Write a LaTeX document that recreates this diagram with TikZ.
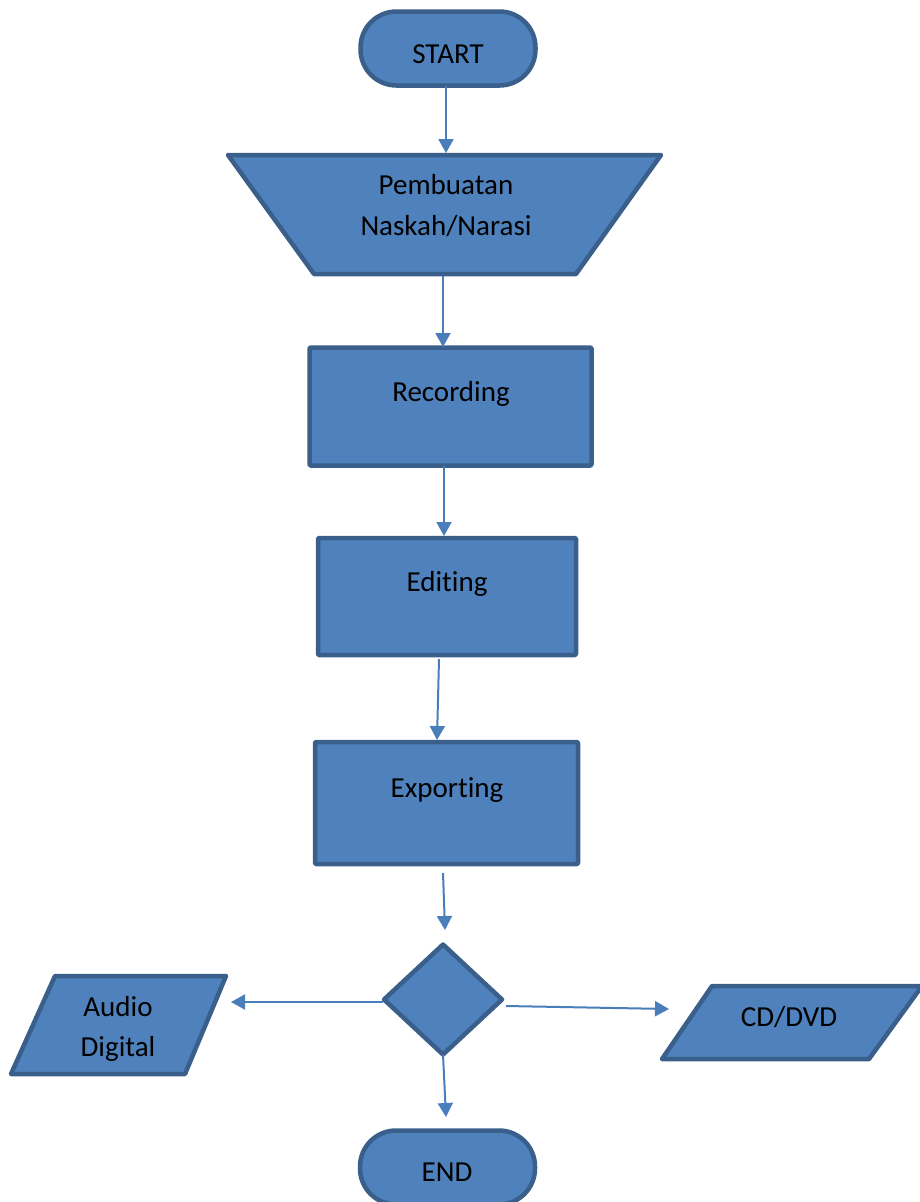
\documentclass[tikz,border=0pt]{standalone}
\usepackage{fontspec}
\setmainfont[Ligatures={NoCommon,NoRequired,NoContextual}]{Carlito}
\usetikzlibrary{arrows.meta,shapes.geometric}
\definecolor{fillblue}{HTML}{4F81BD}
\definecolor{edgeblue}{HTML}{3A5F8B}
\definecolor{arrowblue}{HTML}{4A7EBB}
\tikzset{
  shapebox/.style={draw=edgeblue, fill=fillblue, line width=4.5pt, line join=round, inner sep=0pt, outer sep=0pt},
  terminal/.style={shapebox, rectangle, rounded corners=36pt, minimum width=175pt, minimum height=74pt},
  procbox/.style={shapebox, rectangle, rounded corners=1pt},
  lbl/.style={anchor=base, inner sep=0pt, font=\fontsize{29}{41}\selectfont, text=black},
  arr/.style={draw=arrowblue, line width=2pt, -{Triangle[width=15pt,length=14pt]}}
}
\begin{document}
\begin{tikzpicture}[x=1pt,y=-1pt]
\useasboundingbox (0,0) rectangle (920,1202);

% START
\node[terminal] (start) at (448,48.5) {};
\node[lbl] (startT) at (448,63) {START};

% Trapezoid (manual input)
\draw[shapebox] (228,155) -- (661,155) -- (576,274) -- (314,274) -- cycle;
\coordinate (trapTop) at (446,153);
\coordinate (trapBot) at (443,276);
\node[lbl] (trapT1) at (446,194) {Pembuatan};
\node[lbl] (trapT2) at (446,235) {Naskah/Narasi};

% Recording
\node[procbox, minimum width=282pt, minimum height=118pt] (rec) at (450.5,406.5) {};
\node[lbl] (recT) at (451,401) {Recording};

% Editing
\node[procbox, minimum width=258pt, minimum height=117pt] (edit) at (447,596.5) {};
\node[lbl] (editT) at (447,591) {Edit\kern0pt ing};

% Exporting
\node[procbox, minimum width=263pt, minimum height=122pt] (exp) at (446.5,803) {};
\node[lbl] (expT) at (447,797) {Export\kern0pt ing};

% Decision
\node[shapebox, diamond, minimum width=118pt, minimum height=110pt] (dec) at (443,999.5) {};

% Audio Digital
\draw[shapebox] (55,976) -- (226,976) -- (185,1074) -- (11,1074) -- cycle;
\coordinate (audR) at (231,1002);
\node[lbl] (audT1) at (118,1016) {Audio};
\node[lbl] (audT2) at (118,1056) {Digital};

% CD/DVD
\draw[shapebox] (712,986) -- (922,986) -- (869,1059) -- (662,1059) -- cycle;
\coordinate (cdL) at (669,1009);
\node[lbl] (cdT) at (789,1026) {CD/DVD};

% END
\node[terminal] (end) at (447.5,1167.5) {};
\node[lbl] (endT) at (447,1181) {END};

% connectors
\coordinate (a5s) at (443,873);
\coordinate (a5e) at (445,930);
\coordinate (a3s) at (439,659);
\coordinate (a3e) at (437,740);
\coordinate (a6e) at (446,1117);
\coordinate (decR) at (506,1006);
\coordinate (decL) at (383,1002);
\draw[arr] (start.south -| trapTop) -- (trapTop);
\draw[arr] (trapBot) -- (443,347);
\draw[arr] (rec.south -| 444,0) -- (444,536);
\draw[arr] (a3s) -- (a3e);
\draw[arr] (a5s) -- (a5e);
\draw[arr] (decL) -- (audR);
\draw[arr] (decR) -- (cdL);
\draw[arr] (dec.south) -- (a6e);
\end{tikzpicture}
\end{document}
